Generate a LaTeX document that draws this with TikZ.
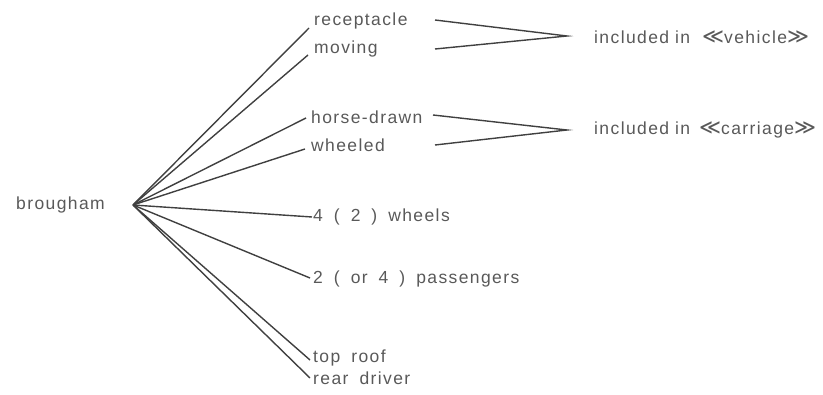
\documentclass[tikz,border=0pt]{standalone}
\usepackage{fontspec}
\setmainfont[LetterSpace=8]{Liberation Sans}
\newfontfamily\guilfont{DejaVu Sans}
\newcommand\mylblfont{\fontsize{17.5}{20}\selectfont\spaceskip=11pt plus 1pt minus 1pt\relax}
\newcommand\lguil{{\guilfont\fontsize{21}{21}\selectfont ≪}}
\newcommand\rguil{{\guilfont\fontsize{21}{21}\selectfont ≫}}
\begin{document}
\begin{tikzpicture}[x=1pt,y=-1pt,
  lbl/.style={anchor=west,inner sep=0pt,font=\mylblfont,text=black!65},
  con/.style={draw=black!75,line width=1.4pt}]
\useasboundingbox (0,0) rectangle (823,395);
\node[lbl] (br) at (16,205) {brougham};
\coordinate (h) at (133,205);
\node[lbl] (rec) at (314,21) {receptacle};
\node[lbl] (mov) at (314,49) {moving};
\node[lbl] (hor) at (311,117) {horse-drawn};
\node[lbl] (whe) at (311,145) {wheeled};
\node[lbl] (wh4) at (313,217) {4 ( 2 ) wheels};
\node[lbl] (pas) at (313,279) {2 ( or 4 ) passengers};
\node[lbl] (top) at (313,358) {top roof};
\node[lbl] (rea) at (313,378) {rear driver};
\node[lbl] (veh) at (594,37) {included\hspace{6pt}in\hspace{12pt}\lguil vehicle\rguil};
\node[lbl] (car) at (594,130) {included\hspace{6pt}in\hspace{9pt}\lguil carriage\rguil};
\coordinate (v1) at (435,20);
\coordinate (v2) at (435,49);
\coordinate (vt) at (567,36);
\coordinate (c1) at (433,115);
\coordinate (c2) at (435,145);
\coordinate (ct) at (567,130);
\draw[con] (h) -- ([shift={(-5,7)}]rec.west);
\draw[con] (h) -- ([shift={(-6,6)}]mov.west);
\draw[con] (h) -- ([shift={(-5,1)}]hor.west);
\draw[con] (h) -- ([shift={(-6,4)}]whe.west);
\draw[con] (h) -- ([shift={(-1,0)}]wh4.west);
\draw[con] (h) -- ([shift={(-3,-1)}]pas.west);
\draw[con] (h) -- ([shift={(-3,2)}]top.west);
\draw[con] (h) -- ([shift={(-3,0)}]rea.west);
\draw[con] (v1) -- (vt) -- (v2);
\draw[con] (c1) -- (ct) -- (c2);
\end{tikzpicture}
\end{document}
